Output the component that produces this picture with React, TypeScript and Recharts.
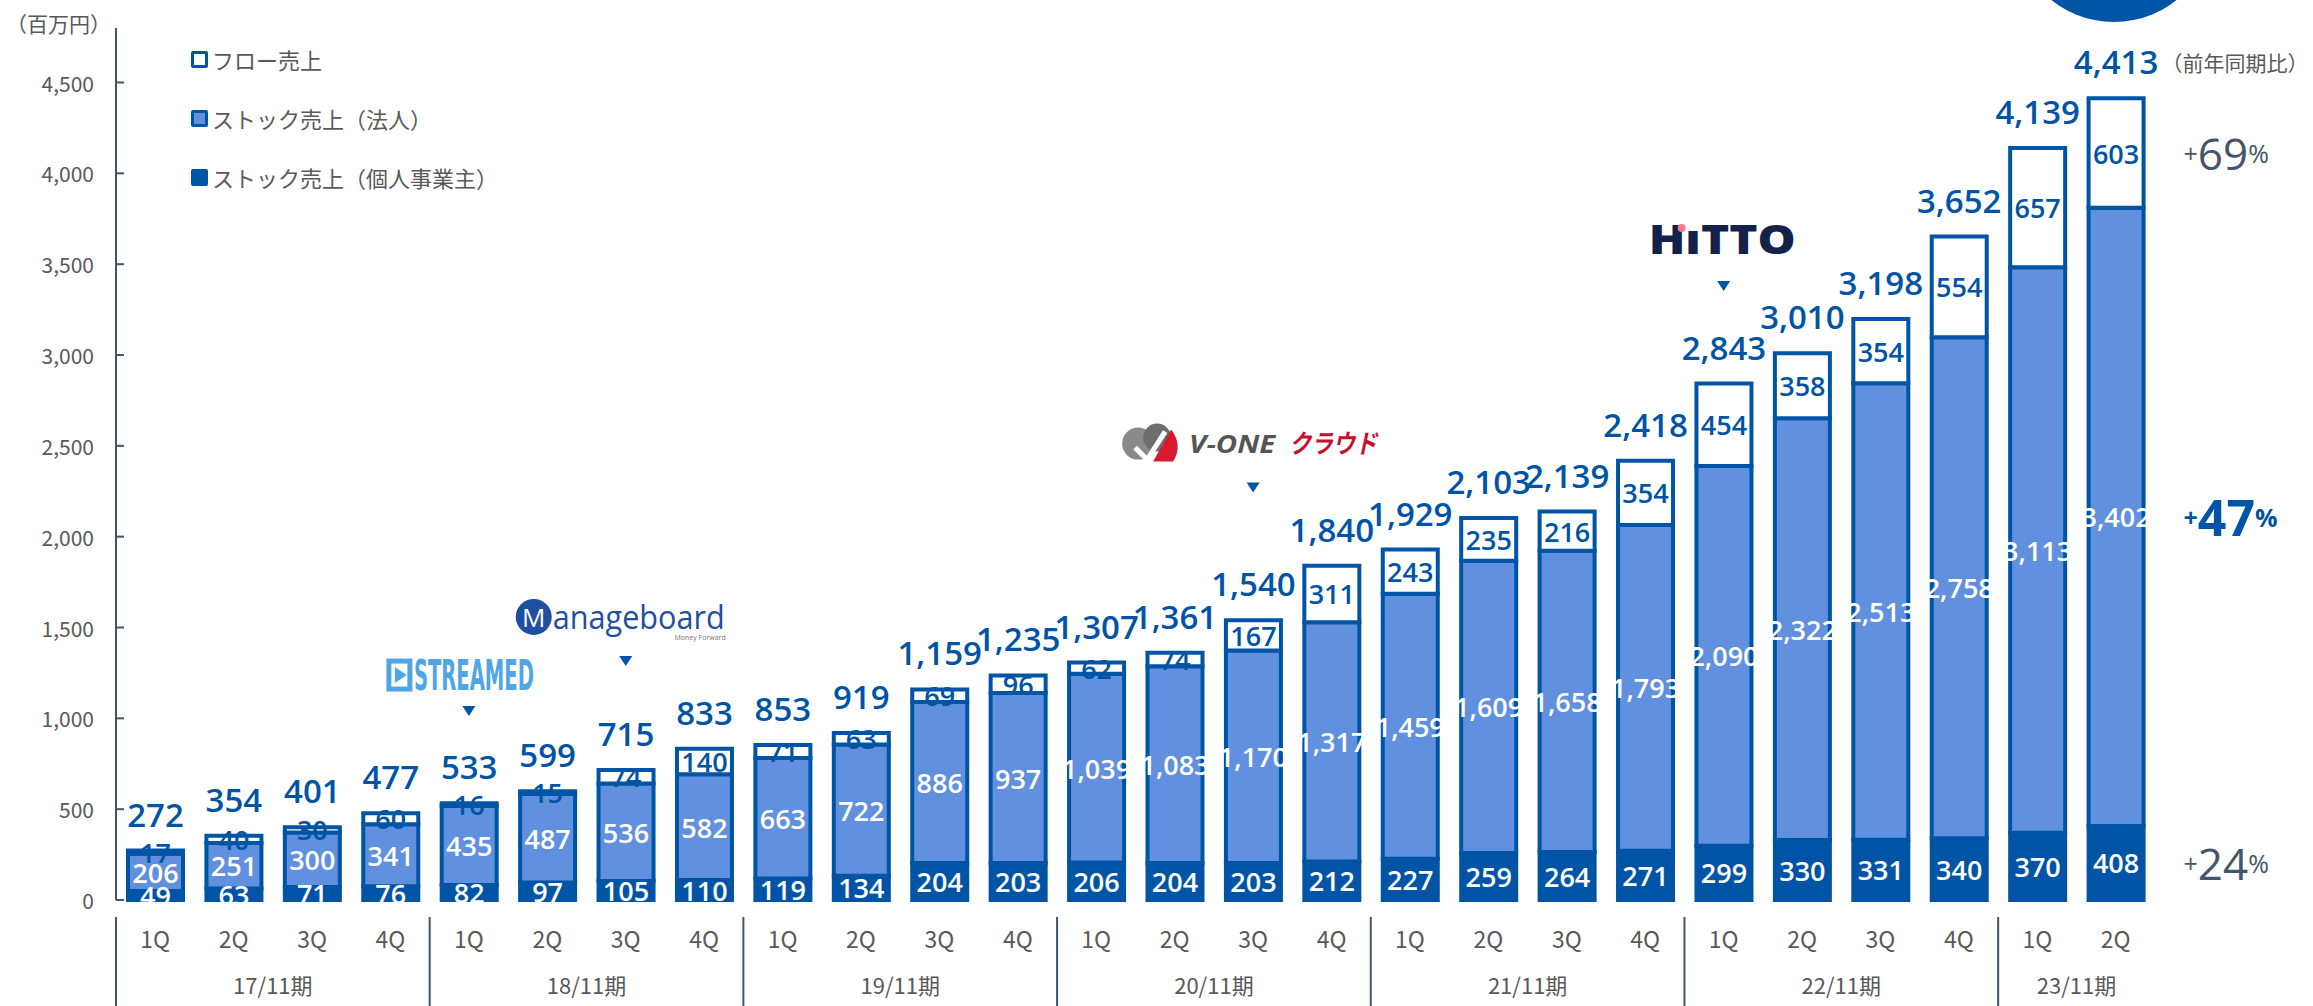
import React from 'react';
import { BarChart, Bar, XAxis, YAxis, LabelList, ReferenceDot } from 'recharts';

// quarterly revenue, 百万円
const quarters = [
  '1Q', '2Q', '3Q', '4Q', '1Q', '2Q', '3Q', '4Q', '1Q', '2Q', '3Q', '4Q', '1Q',
  '2Q', '3Q', '4Q', '1Q', '2Q', '3Q', '4Q', '1Q', '2Q', '3Q', '4Q', '1Q', '2Q',
];
const fiscalYears = [
  '17/11期', '17/11期', '17/11期', '17/11期',
  '18/11期', '18/11期', '18/11期', '18/11期',
  '19/11期', '19/11期', '19/11期', '19/11期',
  '20/11期', '20/11期', '20/11期', '20/11期',
  '21/11期', '21/11期', '21/11期', '21/11期',
  '22/11期', '22/11期', '22/11期', '22/11期',
  '23/11期', '23/11期',
];
const individual = [49, 63, 71, 76, 82, 97, 105, 110, 119, 134, 204, 203, 206, 204, 203, 212, 227, 259, 264, 271, 299, 330, 331, 340, 370, 408];
const corporate = [206, 251, 300, 341, 435, 487, 536, 582, 663, 722, 886, 937, 1039, 1083, 1170, 1317, 1459, 1609, 1658, 1793, 2090, 2322, 2513, 2758, 3113, 3402];
const flow = [17, 40, 30, 60, 16, 15, 74, 140, 71, 63, 69, 96, 62, 74, 167, 311, 243, 235, 216, 354, 454, 358, 354, 554, 657, 603];
const totals = [272, 354, 401, 477, 533, 599, 715, 833, 853, 919, 1159, 1235, 1307, 1361, 1540, 1840, 1929, 2103, 2139, 2418, 2843, 3010, 3198, 3652, 4139, 4413];
const yTicks = [0, 500, 1000, 1500, 2000, 2500, 3000, 3500, 4000, 4500];

// year-on-year growth for the latest quarter
const yoyFlow = '69';
const yoyCorporate = '47';
const yoyIndividual = '24';

// service launches marked above the bars (y in 百万円)
const launchNames = ['STREAMED', 'Manageboard', 'V-ONE', 'HiTTO'];
const launchIndex = [4, 6, 14, 20];
const launchValue = [1040, 1316, 2270, 3380];

const keyOf = (i: number) => `${fiscalYears[i]} ${quarters[i]}`;
const last = totals.length - 1;

const data = totals.map((t, i) => ({
  period: keyOf(i),
  individual: individual[i],
  corporate: corporate[i],
  flow: flow[i],
  total: t,
  yoyI: i === last ? yoyIndividual : undefined,
  yoyC: i === last ? yoyCorporate : undefined,
  yoyF: i === last ? yoyFlow : undefined,
}));

const W = 2313;
const H = 1006;
const M = { top: 28, right: 158, bottom: 0, left: 0 };
const Y_W = 116;
const X_H = 106;
const BAND = (W - M.left - M.right - Y_W) / data.length;

const DARK = '#0054A6';
const LIGHT = '#6090DE';
const AXIS = '#44546A';
const TEXT = '#595959';
const JP_FONT = "'Noto Sans CJK JP', 'Noto Sans', sans-serif";
const NUM_FONT = "'Open Sans', 'Noto Sans', sans-serif";

const fmt = (v: number) => Number(v).toLocaleString('en-US');

const YTick = (p: any) => {
  const { x, y, payload } = p;
  return (
    <g>
      <line x1={x} x2={x + 8} y1={y} y2={y} stroke={AXIS} strokeWidth={2} />
      <text x={x - 22} y={y} textAnchor="end" dominantBaseline="central" fontSize={21} fill={TEXT} fontFamily={JP_FONT}>
        {fmt(payload.value)}
      </text>
    </g>
  );
};

const XTick = (p: any) => {
  const { x, y, index } = p;
  const fy = fiscalYears[index];
  const isStart = index === 0 || fiscalYears[index - 1] !== fy;
  const groupLen = fiscalYears.filter((f) => f === fy).length;
  const left = x - BAND / 2;
  return (
    <g fontFamily={JP_FONT} fill={TEXT}>
      <text x={x} y={y + 38} textAnchor="middle" dominantBaseline="central" fontSize={23}>
        {quarters[index]}
      </text>
      {isStart && (
        <>
          <line x1={left} x2={left} y1={y + 17} y2={y + 106} stroke={AXIS} strokeWidth={2} />
          <text x={left + (groupLen * BAND) / 2} y={y + 84} textAnchor="middle" dominantBaseline="central" fontSize={22}>
            {fy}
          </text>
        </>
      )}
    </g>
  );
};

const segLabel = (color: string) => (p: any) => {
  const { x, y, width, height, value } = p;
  if (value == null) return null;
  return (
    <text x={x + width / 2} y={y + height / 2} fill={color} fontSize={27} fontWeight={600} fontFamily={NUM_FONT}
      textAnchor="middle" dominantBaseline="central">
      {fmt(value)}
    </text>
  );
};

const totalLabel = (p: any) => {
  const { x, y, width, value } = p;
  return (
    <text x={x + width / 2} y={y - 24} fill={DARK} fontSize={33} fontWeight={600} fontFamily={NUM_FONT} textAnchor="middle">
      {fmt(value)}
    </text>
  );
};

const yoyLabel = (strong: boolean, header?: boolean) => (p: any) => {
  const { x, y, width, height, value } = p;
  if (value == null) return null;
  const tx = x + width + 40;
  const color = strong ? DARK : AXIS;
  return (
    <g>
      {header && (
        <text x={x + width + 18} y={y - 36} fontSize={21} fill={TEXT} fontFamily={JP_FONT} dominantBaseline="central">
          （前年同期比）
        </text>
      )}
      <text x={tx} y={y + height / 2} fill={color} fontFamily={NUM_FONT} dominantBaseline="central"
        fontWeight={strong ? 700 : 400}>
        <tspan fontSize={25}>+</tspan>
        <tspan fontSize={strong ? 50 : 44}>{value}</tspan>
        <tspan fontSize={25}>%</tspan>
      </text>
    </g>
  );
};

const LaunchMarker = (name: string) => (p: any) => {
  const { cx, cy } = p;
  const tri = <path d={`M${cx - 6.5},${cy - 5} L${cx + 6.5},${cy - 5} L${cx},${cy + 5} Z`} fill={DARK} />;
  if (name === 'STREAMED') {
    return (
      <g>
        {tri}
        <rect x={cx - 80} y={cy - 50} width={21} height={28} fill="none" stroke="#4FA5E6" strokeWidth={5} />
        <path d={`M${cx - 74},${cy - 44} L${cx - 62},${cy - 36} L${cx - 74},${cy - 28} Z`} fill="#4FA5E6" />
        <text x={cx - 55} y={cy - 21} fontSize={42} fontWeight={700} fill="#4FA5E6" textLength={120}
          lengthAdjust="spacingAndGlyphs" fontFamily="'Liberation Sans Narrow', 'DejaVu Sans Condensed', sans-serif">
          STREAMED
        </text>
      </g>
    );
  }
  if (name === 'Manageboard') {
    return (
      <g>
        {tri}
        <circle cx={cx - 92} cy={cy - 44} r={18} fill="#1F4FA0" />
        <text x={cx - 92} y={cy - 44} fontSize={26} fill="#fff" textAnchor="middle" dominantBaseline="central"
          fontFamily={NUM_FONT}>M</text>
        <text x={cx - 73} y={cy - 32} fontSize={33} fill="#1F4FA0" textLength={172} lengthAdjust="spacingAndGlyphs"
          fontFamily={NUM_FONT}>anageboard</text>
        <text x={cx + 100} y={cy - 21} fontSize={7} fill="#777" textAnchor="end" fontFamily={NUM_FONT}>Money Forward</text>
      </g>
    );
  }
  if (name === 'V-ONE') {
    return (
      <g>
        {tri}
        <circle cx={cx - 115} cy={cy - 44} r={16} fill="#8A8A8A" />
        <circle cx={cx - 96} cy={cy - 50} r={14} fill="#6E6E6E" />
        <path d={`M${cx - 100},${cy - 26} L${cx - 82},${cy - 58} Q${cx - 70},${cy - 42} ${cx - 80},${cy - 26} Z`} fill="#D7192B" />
        <path d={`M${cx - 118},${cy - 40} L${cx - 106},${cy - 28} L${cx - 88},${cy - 56}`} stroke="#fff" strokeWidth={5} fill="none" />
        <text x={cx - 64} y={cy - 35} fontSize={25} fontWeight={700} fontStyle="italic" fill="#555" textLength={86}
          lengthAdjust="spacingAndGlyphs" fontFamily={NUM_FONT}>V-ONE</text>
        <text x={cx + 36} y={cy - 35} fontSize={26} fontWeight={700} fontStyle="italic" fill="#C8102E" textLength={88}
          lengthAdjust="spacingAndGlyphs" fontFamily={JP_FONT}>クラウド</text>
      </g>
    );
  }
  return (
    <g>
      {tri}
      <text x={cx - 75} y={cy - 32} fontSize={40} fontWeight={800} fill="#14214A" textLength={147}
        lengthAdjust="spacingAndGlyphs" fontFamily={NUM_FONT}>HıTTO</text>
      <circle cx={cx - 42} cy={cy - 58} r={4} fill="#F27C8C" />
    </g>
  );
};

const legendItems = [
  { name: 'フロー売上', fill: '#fff' },
  { name: 'ストック売上（法人）', fill: LIGHT },
  { name: 'ストック売上（個人事業主）', fill: DARK },
];

export default function App() {
  return (
    <div style={{ position: 'absolute', left: 0, top: 0, width: W, height: H, overflow: 'hidden', background: '#fff' }}>
      <div style={{ position: 'absolute', left: 6, top: 8, fontSize: 21, color: TEXT, fontFamily: JP_FONT }}>（百万円）</div>
      {legendItems.map((it, i) => (
        <div key={it.name} style={{
          position: 'absolute', left: 191, top: 44 + i * 59, display: 'flex', alignItems: 'center',
          fontSize: 22, color: TEXT, fontFamily: JP_FONT, lineHeight: '30px',
        }}>
          <span style={{
            width: 17, height: 17, boxSizing: 'border-box', border: `3px solid ${DARK}`,
            background: it.fill, borderRadius: 2, marginRight: 4, display: 'inline-block',
          }} />
          {it.name}
        </div>
      ))}
      <div style={{
        position: 'absolute', left: 2014, top: -178, width: 200, height: 200, borderRadius: '50%', background: DARK,
      }} />
      <BarChart width={W} height={H} data={data} margin={M}>
        <XAxis dataKey="period" type="category" height={X_H} axisLine={false} tickLine={false} tickSize={0}
          tickMargin={0} interval={0} tick={XTick} />
        <YAxis type="number" domain={[0, 4800]} ticks={yTicks} width={Y_W} axisLine={{ stroke: AXIS, strokeWidth: 2 }}
          tickLine={false} tickSize={0} tickMargin={0} interval={0} tick={YTick} />
        <Bar dataKey="individual" stackId="s" fill={DARK} stroke={DARK} strokeWidth={4} barSize={55} isAnimationActive={false}>
          <LabelList dataKey="individual" content={segLabel('#fff')} />
          <LabelList dataKey="yoyI" content={yoyLabel(false)} />
        </Bar>
        <Bar dataKey="corporate" stackId="s" fill={LIGHT} stroke={DARK} strokeWidth={4} barSize={55} isAnimationActive={false}>
          <LabelList dataKey="corporate" content={segLabel('#fff')} />
          <LabelList dataKey="yoyC" content={yoyLabel(true)} />
        </Bar>
        <Bar dataKey="flow" stackId="s" fill="#fff" stroke={DARK} strokeWidth={4} barSize={55} isAnimationActive={false}>
          <LabelList dataKey="flow" content={segLabel(DARK)} />
          <LabelList dataKey="total" content={totalLabel} />
          <LabelList dataKey="yoyF" content={yoyLabel(false, true)} />
        </Bar>
        {launchNames.map((n, k) => (
          <ReferenceDot key={n} x={keyOf(launchIndex[k])} y={launchValue[k]} r={0} shape={LaunchMarker(n)} />
        ))}
      </BarChart>
    </div>
  );
}
